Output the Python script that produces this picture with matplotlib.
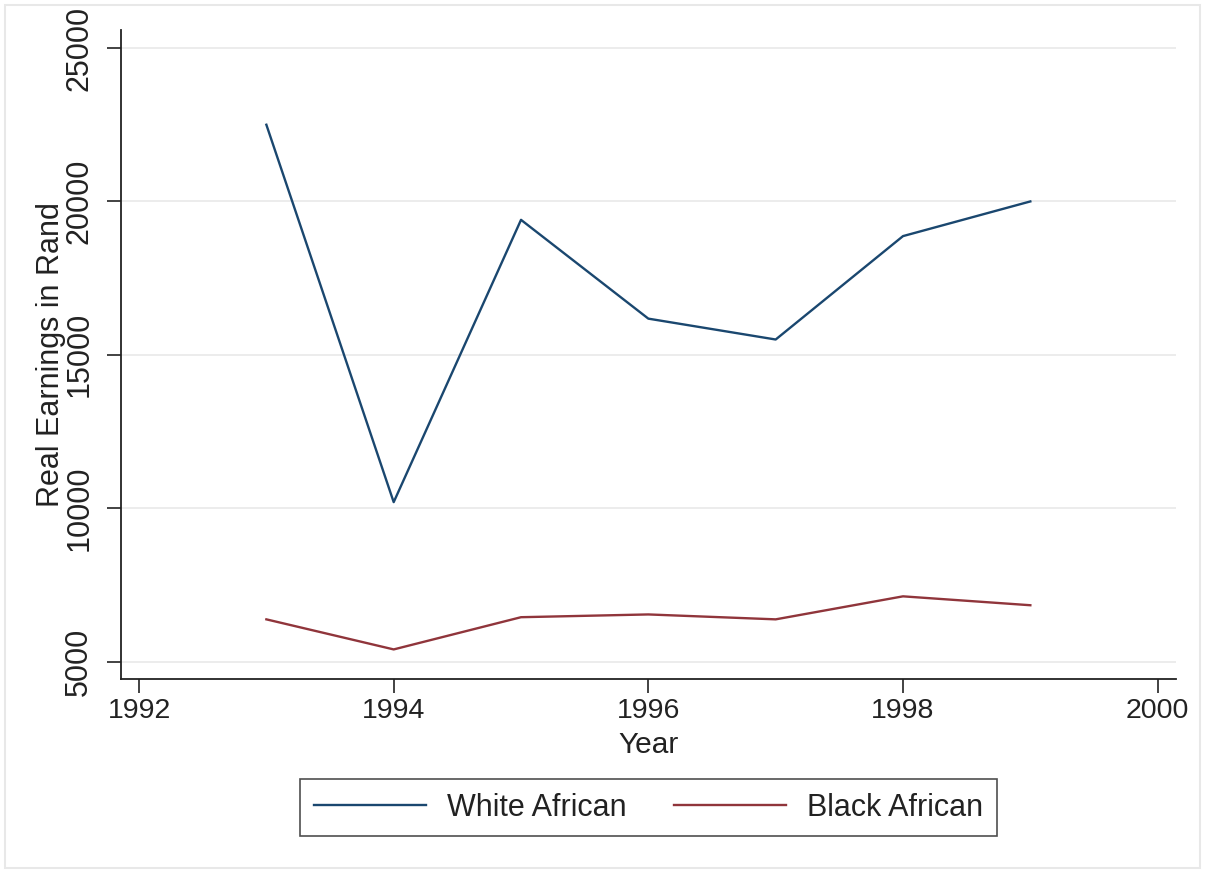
import matplotlib
matplotlib.use("Agg")
import matplotlib.pyplot as plt
from matplotlib.patches import Rectangle

years = [1993, 1994, 1995, 1996, 1997, 1998, 1999]
white_african = [22500, 10200, 19400, 16180, 15500, 18870, 20000]
black_african = [6380, 5400, 6450, 6540, 6380, 7130, 6840]
x_ticks = [1992, 1994, 1996, 1998, 2000]
y_ticks = [5000, 10000, 15000, 20000, 25000]

plt.rcParams['font.family'] = ['Liberation Sans', 'DejaVu Sans']

W, H = 1205, 874
fig = plt.figure(figsize=(W / 100, H / 100), dpi=100)
fig.patch.set_facecolor('white')

# faint outer frame (graph region border)
fig.add_artist(Rectangle((5 / W, 1 - 868 / H), (1200 - 5) / W, (868 - 5) / H,
                         transform=fig.transFigure, fill=False,
                         edgecolor='#e8e8e8', linewidth=1.5))

ax_w = (1176 - 120.7) / W
ax = fig.add_axes([120.7 / W, 1 - 679 / H, ax_w, (679 - 30) / H])
ax.plot(years, white_african, color='#1a476f', linewidth=1.7, label='White African')
ax.plot(years, black_african, color='#90353b', linewidth=1.7, label='Black African')

ax.set_xlim(1991.856, 2000.144)
ax.set_ylim(4436, 25587)
ax.set_xticks(x_ticks)
ax.set_yticks(y_ticks)
ax.set_xticklabels([str(v) for v in x_ticks], fontsize=20.5)
ax.set_yticklabels([str(v) for v in y_ticks], rotation=90, va='center', fontsize=22)

ax.grid(axis='y', color='#eaeaea', linewidth=1.3)
ax.set_axisbelow(True)
for s in ['top', 'right']:
    ax.spines[s].set_visible(False)
for s in ['left', 'bottom']:
    ax.spines[s].set_color('#222222')
    ax.spines[s].set_linewidth(1.3)

ax.tick_params(axis='both', colors='#222222', labelcolor='#222222',
               length=10, width=1.2)
ax.tick_params(axis='x', pad=4)
ax.tick_params(axis='y', pad=9)

ax.set_xlabel('Year', fontsize=21.5, color='#222222', labelpad=5)
ax.set_ylabel('Real Earnings in Rand', fontsize=22, color='#222222')
ax.yaxis.set_label_coords((66 - 120.7) / (W * ax_w), 0.5)

leg = fig.legend(loc='center', bbox_to_anchor=(648.5 / W, 1 - 807.5 / H), ncol=2,
                 fontsize=22, frameon=True, fancybox=False, edgecolor='#222222',
                 handlelength=3.66, handletextpad=0.69, columnspacing=1.57,
                 borderpad=0.45)
leg.get_frame().set_linewidth(1.2)
for t in leg.get_texts():
    t.set_color('#222222')

fig.savefig('out.png', dpi=100, facecolor='white')
